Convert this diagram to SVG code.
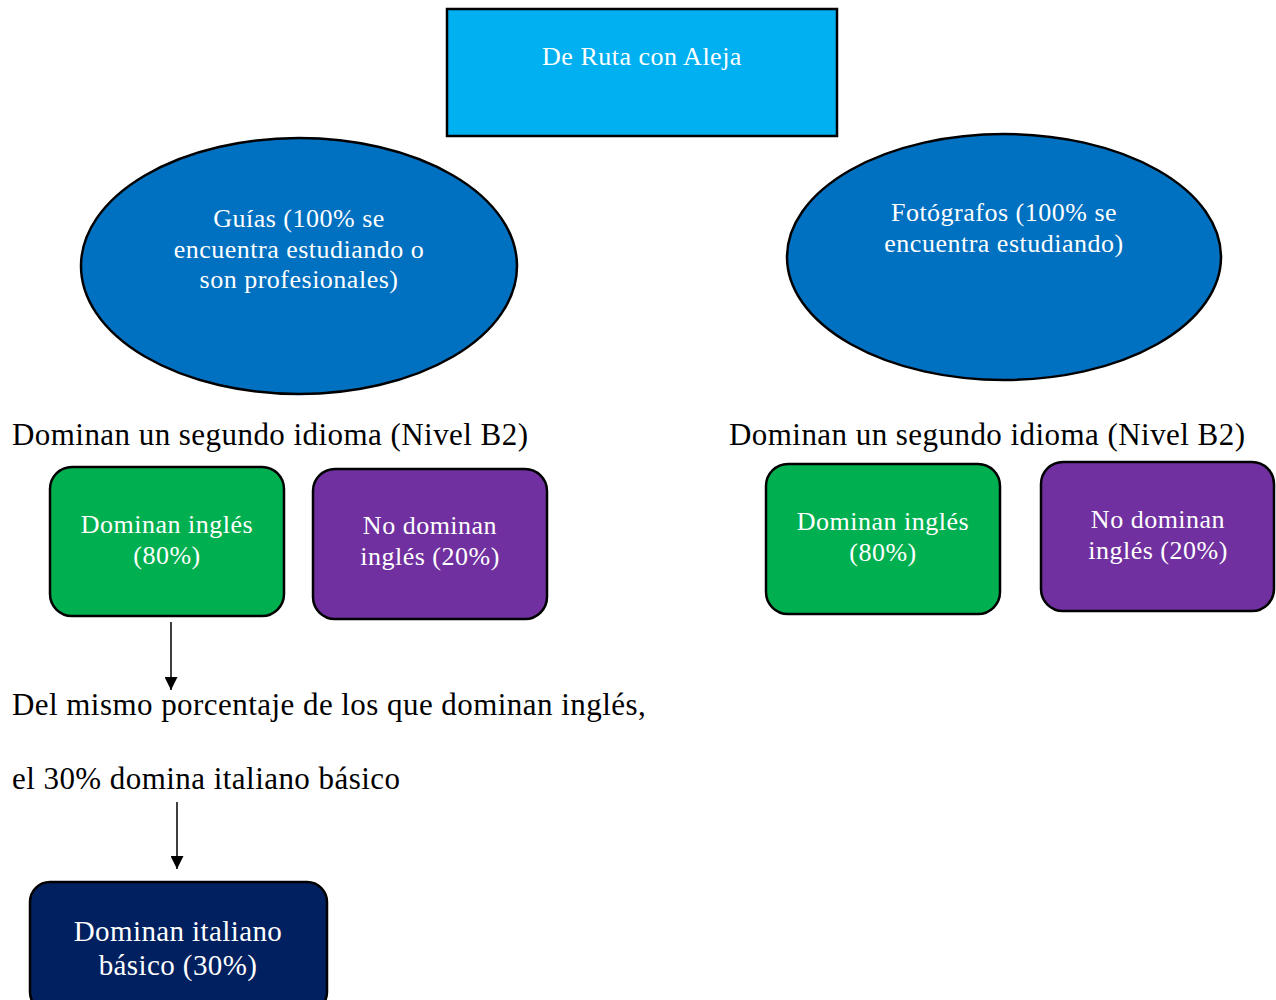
<svg xmlns="http://www.w3.org/2000/svg" width="1276" height="1000" viewBox="0 0 1276 1000">
  <defs>
    <marker id="arrow" viewBox="0 0 10 10" refX="10" refY="5" markerWidth="13" markerHeight="13" markerUnits="userSpaceOnUse" orient="auto">
      <path d="M0,0 L10,5 L0,10 z" fill="#000"/>
    </marker>
  </defs>
  <style>
    text { font-family: "Liberation Serif", "Times New Roman", serif; }
    .in { fill: #ffffff; font-size: 26px; letter-spacing: 0.5px; text-anchor: middle; }
    .big { fill: #ffffff; font-size: 29px; letter-spacing: 0.4px; text-anchor: middle; }
    .plain { fill: #000000; font-size: 31px; letter-spacing: 0.45px; }
    .shape { stroke: #000; stroke-width: 2.5; }
    .conn { stroke: #000; stroke-width: 1.5; fill: none; marker-end: url(#arrow); }
  </style>
  <rect width="1276" height="1000" fill="#ffffff"/>

  <g id="title">
    <rect class="shape" x="447" y="9" width="390" height="127" fill="#00B0F0"/>
    <text class="in" x="642" y="65">De Ruta con Aleja</text>
  </g>

  <g id="guias">
    <ellipse class="shape" cx="299" cy="266" rx="218" ry="128" fill="#0070C0"/>
    <text class="in" x="299" y="227">Guías (100% se</text>
    <text class="in" x="299" y="258">encuentra estudiando o</text>
    <text class="in" x="299" y="288">son profesionales)</text>
  </g>

  <g id="fotografos">
    <ellipse class="shape" cx="1004" cy="257" rx="217" ry="123" fill="#0070C0"/>
    <text class="in" x="1004" y="221">Fotógrafos (100% se</text>
    <text class="in" x="1004" y="252">encuentra estudiando)</text>
  </g>

  <g id="label-left">
    <text class="plain" x="12" y="445">Dominan un segundo idioma (Nivel B2)</text>
  </g>
  <g id="label-right">
    <text class="plain" x="729" y="445">Dominan un segundo idioma (Nivel B2)</text>
  </g>

  <g id="guias-ingles">
    <rect class="shape" x="50" y="467" width="234" height="149" rx="22" fill="#00B050"/>
    <text class="in" x="167" y="533">Dominan inglés</text>
    <text class="in" x="167" y="564">(80%)</text>
  </g>
  <g id="guias-no-ingles">
    <rect class="shape" x="313" y="469" width="234" height="150" rx="22" fill="#7030A0"/>
    <text class="in" x="430" y="534">No dominan</text>
    <text class="in" x="430" y="565">inglés (20%)</text>
  </g>
  <g id="foto-ingles">
    <rect class="shape" x="766" y="464" width="234" height="150" rx="22" fill="#00B050"/>
    <text class="in" x="883" y="530">Dominan inglés</text>
    <text class="in" x="883" y="561">(80%)</text>
  </g>
  <g id="foto-no-ingles">
    <rect class="shape" x="1041" y="462" width="233" height="149" rx="22" fill="#7030A0"/>
    <text class="in" x="1158" y="528">No dominan</text>
    <text class="in" x="1158" y="559">inglés (20%)</text>
  </g>

  <g id="nota">
    <text class="plain" x="12" y="715">Del mismo porcentaje de los que dominan inglés,</text>
    <text class="plain" x="12" y="789">el 30% domina italiano básico</text>
  </g>

  <g id="italiano">
    <rect class="shape" x="30" y="882" width="297" height="130" rx="20" fill="#002060"/>
    <text class="big" x="178" y="941">Dominan italiano</text>
    <text class="big" x="178" y="975">básico (30%)</text>
  </g>

  <g id="connectors">
    <line class="conn" x1="171" y1="622" x2="171" y2="690"/>
    <line class="conn" x1="177" y1="802" x2="177" y2="869"/>
  </g>
</svg>
